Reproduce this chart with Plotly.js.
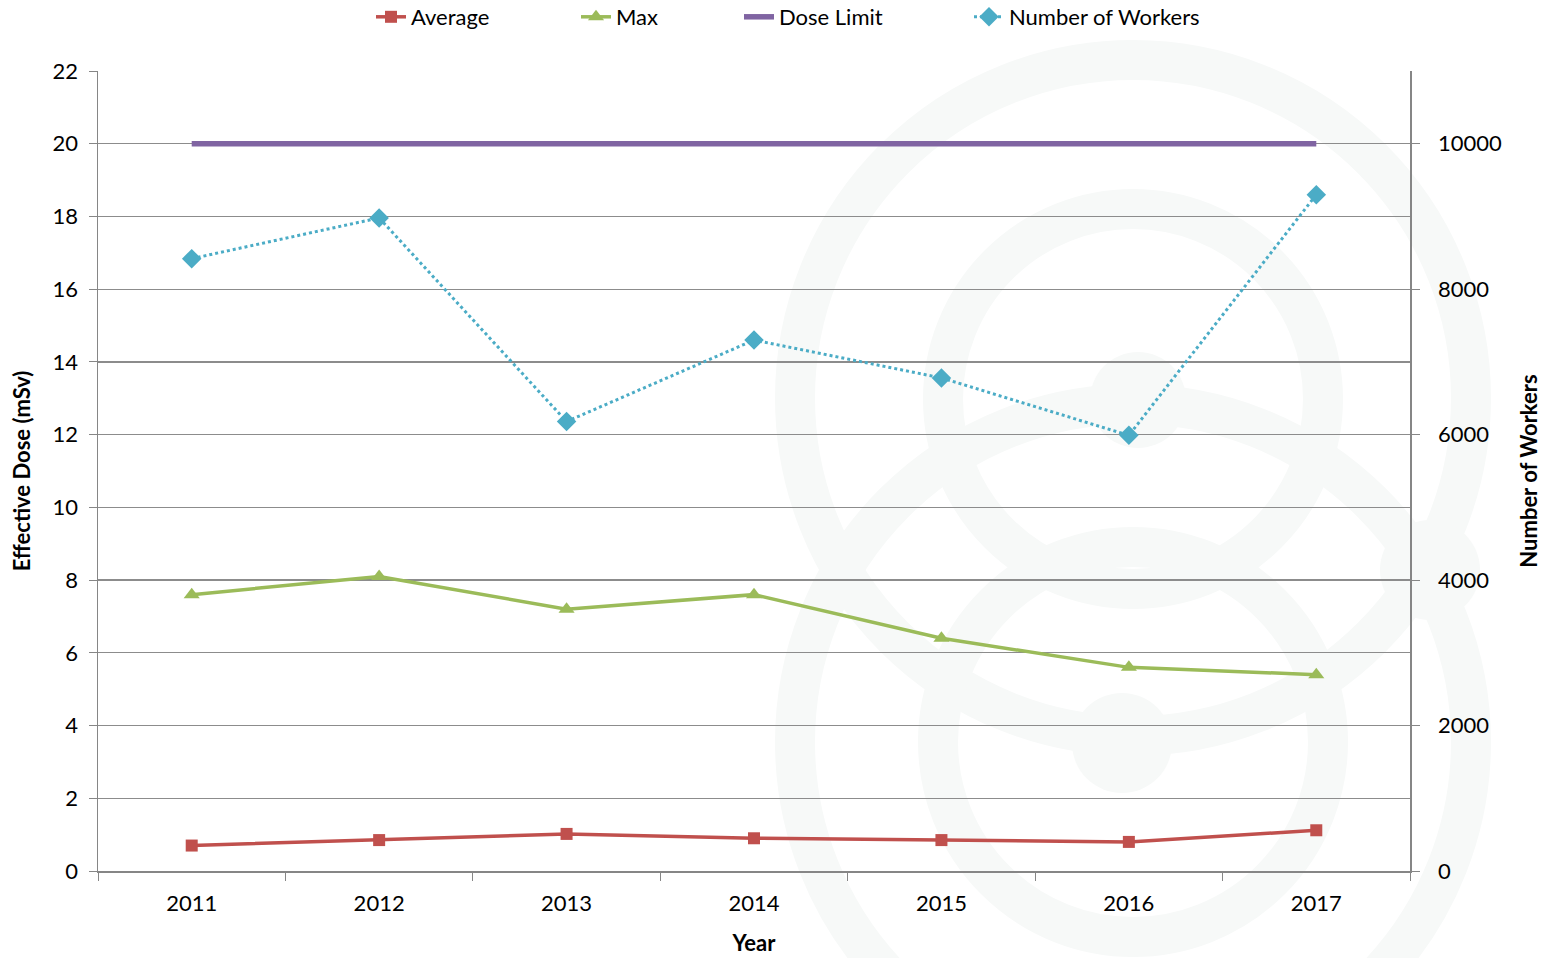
<!DOCTYPE html>
<html>
<head>
<meta charset="utf-8">
<script src="https://cdn.plot.ly/plotly-3.0.1.min.js"></script>
<style>html,body{margin:0;padding:0;background:#fff;}#chart{width:1549px;height:958px;}</style>
</head>
<body>
<div id="chart"></div>
<script>
const years = ["2011", "2012", "2013", "2014", "2015", "2016", "2017"];
const averageDose = [0.7, 0.85, 1.02, 0.9, 0.85, 0.8, 1.12];
const maxDose = [7.6, 8.1, 7.2, 7.6, 6.4, 5.6, 5.4];
const doseLimit = [20, 20, 20, 20, 20, 20, 20];
const numberOfWorkers = [8420, 8980, 6180, 7300, 6780, 5990, 9300];
const leftTicks = [0, 2, 4, 6, 8, 10, 12, 14, 16, 18, 20, 22];
const rightTicks = [0, 2000, 4000, 6000, 8000, 10000];
const rightTickLabels = ["0", "2000", "4000", "6000", "8000", "10000"];

const W = 1549, H = 958;
const M = {l: 98, r: W - 1410, t: 71, b: H - 871};
const pw = W - M.l - M.r, ph = H - M.t - M.b;
function px2x(p) { return (p - M.l) / pw; }
function px2y(p) { return (M.t + ph - p) / ph; }

// faint decorative watermark rings
function ring(cx, cy, r, w, color) {
  return {type: 'circle', xref: 'paper', yref: 'paper', layer: 'below',
    x0: px2x(cx - r), x1: px2x(cx + r), y0: px2y(cy + r), y1: px2y(cy - r),
    line: {color: color, width: w}, fillcolor: 'rgba(0,0,0,0)'};
}
function disk(cx, cy, r, color) {
  return {type: 'circle', xref: 'paper', yref: 'paper', layer: 'below',
    x0: px2x(cx - r), x1: px2x(cx + r), y0: px2y(cy + r), y1: px2y(cy - r),
    line: {width: 0}, fillcolor: color};
}
const wm = '#f7f9f8';
const shapes = [
  ring(1133, 398, 338, 40, wm),
  ring(1133, 399, 190, 40, wm),
  ring(1133, 742, 338, 40, wm),
  ring(1133, 742, 195, 40, wm),
  disk(1138, 400, 48, wm),
  disk(1122, 743, 50, wm),
  disk(1430, 570, 50, wm)
];

const fontFam = 'Lato, "Open Sans", sans-serif';

const traces = [
  {x: years, y: averageDose, name: 'Average', type: 'scatter', mode: 'lines+markers', legend: 'legend',
   line: {color: '#c0504d', width: 3.5}, marker: {symbol: 'square', size: 12, color: '#c0504d'}},
  {x: years, y: maxDose, name: 'Max', type: 'scatter', mode: 'lines+markers', legend: 'legend2',
   line: {color: '#9bbb59', width: 3.5}, marker: {symbol: 'triangle-up', size: 14, color: '#9bbb59'}},
  {x: years, y: doseLimit, name: 'Dose Limit', type: 'scatter', mode: 'lines', legend: 'legend3',
   line: {color: '#8064a2', width: 5.5}},
  {x: years, y: numberOfWorkers, name: 'Number of Workers', type: 'scatter', mode: 'lines+markers', legend: 'legend4',
   yaxis: 'y2', line: {color: '#4bacc6', width: 3, dash: 'dot'},
   marker: {symbol: 'diamond', size: 15, color: '#4bacc6'}}
];

function legendAt(textX) {
  return {orientation: 'h', x: (textX - 40) / W, xref: 'container', xanchor: 'left',
          y: 1 - 17 / H, yref: 'container', yanchor: 'middle',
          font: {family: fontFam, size: 22, color: '#000'}, bgcolor: 'rgba(0,0,0,0)',
          itemwidth: 30};
}

const layout = {
  width: W, height: H,
  margin: M,
  paper_bgcolor: '#ffffff',
  plot_bgcolor: 'rgba(0,0,0,0)',
  font: {family: fontFam, size: 22, color: '#000'},
  showlegend: true,
  legend: legendAt(411),
  legend2: legendAt(616),
  legend3: legendAt(779),
  legend4: legendAt(1009),
  xaxis: {type: 'category', tickson: 'boundaries', ticks: 'outside', ticklen: 8,
          tickcolor: '#868686', showline: true, linecolor: '#868686', linewidth: 1.5,
          showgrid: false, zeroline: false, tickfont: {family: fontFam, size: 22},
          ticklabelstandoff: 12,
          title: {text: 'Year', font: {family: fontFam, size: 22, weight: 'bold'}, standoff: 20},
          range: [-0.5, 6.5]},
  yaxis: {range: [0, 22], tickvals: leftTicks, ticks: 'outside', ticklen: 8,
          tickcolor: '#868686', showline: true, linecolor: '#868686', linewidth: 1.5,
          showgrid: true, gridcolor: '#8c8c8c', gridwidth: 1.2, zeroline: false,
          tickfont: {family: fontFam, size: 22}, ticklabelstandoff: 6,
          title: {text: 'Effective Dose (mSv)', font: {family: fontFam, size: 22, weight: 'bold'}, standoff: 16}},
  yaxis2: {overlaying: 'y', side: 'right', range: [0, 11000], tickvals: rightTicks,
           ticktext: rightTickLabels,
           ticks: 'outside', ticklen: 8, tickcolor: '#868686', showline: true,
           linecolor: '#868686', linewidth: 1.5, showgrid: false, zeroline: false,
           tickfont: {family: fontFam, size: 22}, ticklabelstandoff: 14,
           title: {text: 'Number of Workers', font: {family: fontFam, size: 22, weight: 'bold'}, standoff: 20}},
  shapes: shapes
};

Plotly.newPlot('chart', traces, layout, {displayModeBar: false, staticPlot: true});
</script>
</body>
</html>
